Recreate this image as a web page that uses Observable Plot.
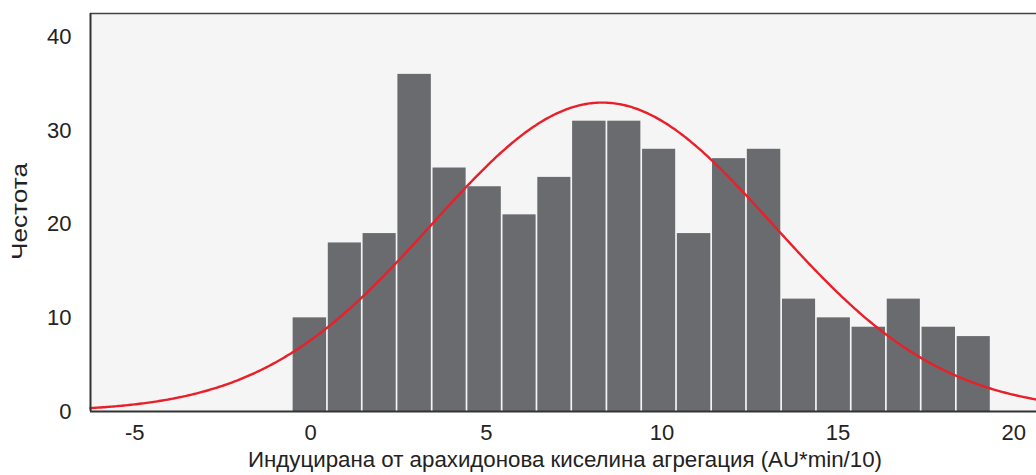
<!DOCTYPE html>
<html lang="bg">
<head>
<meta charset="utf-8">
<script src="https://cdn.jsdelivr.net/npm/d3@7"></script>
<script src="https://cdn.jsdelivr.net/npm/@observablehq/plot@0.6"></script>
<style>
  html, body { margin: 0; padding: 0; background: #fff; }
  #chart svg { display: block; }
</style>
</head>
<body>
<div id="chart"></div>
<script>
// Histogram bin edges (lower edges, plus the final upper edge) and frequencies
const binEdges = [-0.52, 0.48, 1.47, 2.46, 3.46, 4.45, 5.45, 6.44, 7.43, 8.43, 9.42,
                  10.41, 11.41, 12.40, 13.40, 14.39, 15.38, 16.38, 17.37, 18.37, 19.36];
const frequencies = [10, 18, 19, 36, 26, 24, 21, 25, 31, 31, 28, 19, 27, 28, 12, 10, 9, 12, 9, 8];
const xTicks = [-5, 0, 5, 10, 15, 20];
const yTicks = [0, 10, 20, 30, 40];
const xLabel = "Индуцирана от арахидонова киселина агрегация (AU*min/10)";
const yLabel = "Честота";

const bins = frequencies.map((f, i) => ({ x1: binEdges[i], x2: binEdges[i + 1], f }));

// Fitted normal curve from the histogram's own mean and standard deviation
const mids = bins.map(b => (b.x1 + b.x2) / 2);
const binWidth = (binEdges[binEdges.length - 1] - binEdges[0]) / frequencies.length;
const N = d3.sum(frequencies);
const mean = d3.sum(mids, (c, i) => c * frequencies[i]) / N;
const variance = d3.sum(mids, (c, i) => (c - mean) ** 2 * frequencies[i]) / N;
const sd = Math.sqrt(variance);
const xDomain = [-6.26, 20.65];
const yMax = 42.5;
const curve = d3.range(xDomain[0], xDomain[1] + 0.001, 0.05).map(x => ({
  x,
  y: N * binWidth / (sd * Math.sqrt(2 * Math.PI)) * Math.exp(-((x - mean) ** 2) / (2 * sd * sd))
}));

const W = 1036, H = 475;
const plot = Plot.plot({
  width: W,
  height: H,
  marginLeft: 90,
  marginRight: 0,
  marginTop: 13,
  marginBottom: 64,
  style: { fontFamily: "'Liberation Sans', Arial, sans-serif", fontSize: "22px", color: "#222", background: "#fff" },
  x: { domain: xDomain, ticks: xTicks, tickSize: 0, tickPadding: 13, tickFormat: d => String(d), label: null },
  y: { domain: [0, yMax], ticks: yTicks, tickSize: 0, tickPadding: 19, tickFormat: d => String(d), label: null },
  marks: [
    Plot.frame({ fill: "#f5f5f5", stroke: null }),
    Plot.rectY(bins, { x1: "x1", x2: "x2", y: "f", fill: "#6a6b6f", insetLeft: 0.85, insetRight: 0.85 }),
    Plot.line(curve, { x: "x", y: "y", stroke: "#e8202a", strokeWidth: 2.4, curve: "linear" }),
    Plot.ruleY([0], { stroke: "#333", strokeWidth: 2 }),
    Plot.ruleY([yMax], { stroke: "#444", strokeWidth: 1.5 }),
    Plot.ruleX([xDomain[0]], { stroke: "#333", strokeWidth: 2 })
  ]
});
plot.setAttribute("lang", "bg");
const svg = d3.select(plot);
svg.append("text")
  .attr("x", 565).attr("y", 467)
  .attr("text-anchor", "middle")
  .attr("fill", "#222")
  .attr("textLength", 634).attr("lengthAdjust", "spacingAndGlyphs")
  .style("font-family", "'Liberation Sans', Arial, sans-serif")
  .style("font-size", "22px")
  .text(xLabel);
svg.append("text")
  .attr("transform", "translate(27,211.5) rotate(-90)")
  .attr("text-anchor", "middle")
  .attr("fill", "#222")
  .attr("textLength", 97).attr("lengthAdjust", "spacingAndGlyphs")
  .style("font-family", "'Liberation Sans', Arial, sans-serif")
  .style("font-size", "22px")
  .text(yLabel);
document.getElementById("chart").appendChild(plot);
</script>
</body>
</html>
